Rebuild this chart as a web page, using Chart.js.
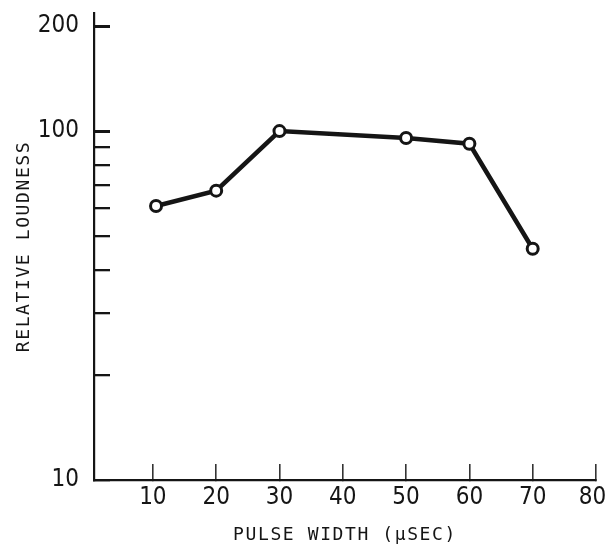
<!DOCTYPE html>
<html>
<head>
<meta charset="utf-8">
<title>Relative loudness vs pulse width</title>
<script src="https://cdn.jsdelivr.net/npm/chart.js@4/dist/chart.umd.min.js"></script>
<style>
    html, body { margin: 0; padding: 0; background: #fff; }
    #wrap { width: 606px; height: 544px; }
</style>
</head>
<body>
<div id="wrap"><canvas id="loudnessChart" width="606" height="544"></canvas></div>
<script>
// Data
const pulseWidths = [10.5, 20, 30, 50, 60, 70];          // µsec
const loudness = [61, 67.5, 100, 95.5, 92, 46];          // relative loudness
const xTickValues = [10, 20, 30, 40, 50, 60, 70, 80];
const yTickValues = [10, 20, 30, 40, 50, 60, 70, 80, 90, 100, 200];
const yLabelled = [10, 100, 200];

const ink = '#151515';
const tickFont = { family: "'Liberation Sans Narrow', 'DejaVu Sans Condensed', sans-serif", size: 24 };
const titleFont = { family: "'DejaVu Sans Mono', monospace", size: 18 };

// axis titles are spaced out like the plotter lettering; tick labels are not
const letterSpacing = {
    id: 'letterSpacing',
    beforeDraw(chart) { chart.ctx.letterSpacing = '1.6px'; },
    beforeDatasetsDraw(chart) { chart.ctx.letterSpacing = '0px'; }
};

const points = pulseWidths.map((x, i) => ({ x: x, y: loudness[i] }));

new Chart(document.getElementById('loudnessChart'), {
    type: 'line',
    data: {
        datasets: [{
            data: points,
            borderColor: ink,
            borderWidth: 4.5,
            tension: 0,
            pointRadius: 5.5,
            pointBorderWidth: 3,
            pointBackgroundColor: '#fff',
            pointBorderColor: ink
        }]
    },
    options: {
        responsive: false,
        animation: false,
        layout: { padding: { top: 13, right: 10, bottom: 0, left: 0 } },
        plugins: {
            legend: { display: false },
            tooltip: { enabled: false }
        },
        scales: {
            x: {
                type: 'linear',
                min: 0.7,
                max: 80,
                afterBuildTicks: (scale) => {
                    scale.ticks = xTickValues.map(v => ({ value: v }));
                },
                afterFit: (scale) => {
                    scale.paddingLeft = 0;
                    scale.paddingRight = 0;
                    scale.height = 64;
                },
                grid: {
                    display: true,
                    drawOnChartArea: false,
                    drawTicks: true,
                    tickLength: -16,
                    color: '#333',
                    lineWidth: 1.6
                },
                border: { display: true, color: ink, width: 2.2 },
                ticks: {
                    z: 1,
                    autoSkip: false,
                    maxRotation: 0,
                    padding: 19,
                    color: ink,
                    font: tickFont,
                    // the last label sits a little inside the axis end
                    callback: (v) => (v === 80 ? '80 ' : String(v))
                },
                title: {
                    display: true,
                    text: 'PULSE WIDTH (\u03bcSEC)',
                    color: ink,
                    font: titleFont,
                    padding: { top: 10, bottom: -2 }
                }
            },
            y: {
                type: 'logarithmic',
                min: 10,
                max: 218,
                afterBuildTicks: (scale) => {
                    scale.ticks = yTickValues.map(v => ({ value: v }));
                },
                afterFit: (scale) => {
                    scale.paddingTop = 0;
                    scale.paddingBottom = 0;
                    scale.width = 94;
                },
                grid: {
                    display: true,
                    drawOnChartArea: false,
                    drawTicks: true,
                    tickLength: -16,
                    color: ink,
                    lineWidth: (ctx) => (ctx.tick && ctx.tick.value >= 100 ? 3 : 2.3)
                },
                border: { display: true, color: ink, width: 2.2 },
                ticks: {
                    z: 1,
                    autoSkip: false,
                    padding: 31,
                    color: ink,
                    font: tickFont,
                    callback: (v) => (yLabelled.includes(v) ? String(v) : '')
                },
                title: {
                    display: true,
                    text: 'RELATIVE LOUDNESS',
                    color: ink,
                    font: titleFont,
                    padding: { top: 13.7, bottom: 0 }
                }
            }
        }
    },
    plugins: [letterSpacing]
});
</script>
</body>
</html>
